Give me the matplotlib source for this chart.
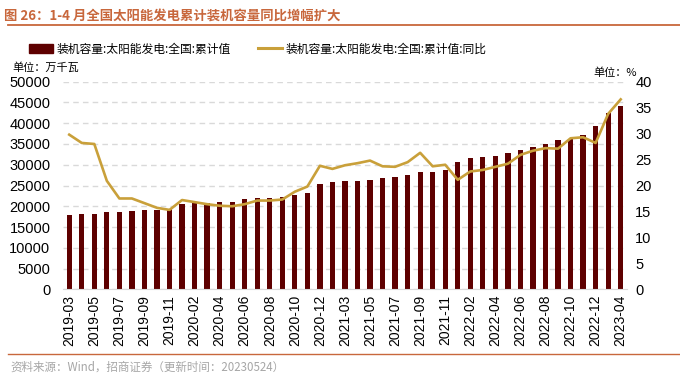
import numpy as np
import matplotlib
matplotlib.use('Agg')
import matplotlib.pyplot as plt
from matplotlib.lines import Line2D
from matplotlib.patches import Patch

plt.rcParams['font.family'] = ['Liberation Sans', 'Noto Sans CJK SC', 'DejaVu Sans']

# monthly cumulative data (no January figures)
months = (['2019-%02d' % m for m in range(3, 13)] +
          ['2020-%02d' % m for m in range(2, 13)] +
          ['2021-%02d' % m for m in range(2, 13)] +
          ['2022-%02d' % m for m in range(2, 13)] +
          ['2023-03', '2023-04'])

capacity = [17900, 18050, 18130, 18600, 18720, 18880, 19050, 19200, 19280, 20430,
            20800, 20860, 21020, 21100, 21670, 21910, 21990, 22230, 22780, 23190, 25360,
            25840, 26000, 26160, 26400, 26720, 27120, 27520, 28250, 28250, 28810, 30650,
            31620, 31800, 32180, 32740, 33620, 34270, 34990, 35870, 36270, 37160, 39250,
            42530, 44060]

yoy = [29.8, 28.2, 28.0, 20.9, 17.5, 17.5, 16.6, 15.7, 15.3, 17.2,
       16.8, 16.4, 16.1, 16.0, 16.4, 17.1, 17.1, 17.3, 18.8, 19.8, 23.8,
       23.2, 23.9, 24.3, 24.8, 23.7, 23.6, 24.5, 26.3, 23.7, 24.0, 21.1,
       22.7, 23.0, 23.6, 24.2, 25.9, 26.7, 27.2, 27.1, 29.1, 29.3, 28.2,
       33.8, 36.6]

left_ticks = list(range(0, 50001, 5000))
right_ticks = list(range(0, 41, 5))

bar_color = '#5E0000'
line_color = '#C9A03A'
accent = '#C8673C'
cjk = ['Noto Sans CJK SC', 'DejaVu Sans']

fig = plt.figure(figsize=(6.8, 3.79), dpi=100)
ax = fig.add_axes([0.0926, 0.2367, 0.8294, 0.5477])
ax2 = ax.twinx()

x = np.arange(len(months))
ax.bar(x, capacity, width=0.42, color=bar_color, zorder=2)
ax2.plot(x, yoy, color=line_color, lw=1.9, zorder=3)

ax.set_xlim(-0.5, len(months) - 0.5)
ax.set_ylim(0, 50000)
ax2.set_ylim(0, 40)
ax.set_yticks(left_ticks)
ax2.set_yticks(right_ticks)
ax.set_xticks(x[::2])
ax.set_xticklabels(months[::2], rotation=90)
ax.tick_params(axis='both', length=0, labelsize=10.5, pad=9)
ax.tick_params(axis='x', labelsize=10, pad=4)
ax2.tick_params(axis='y', length=0, labelsize=10.5, pad=6)

ax.yaxis.grid(True, color='#D9D9D9', ls=(0, (4, 3)), lw=1)
ax.set_axisbelow(True)
for a in (ax, ax2):
    for s in a.spines.values():
        s.set_visible(False)
ax.spines['bottom'].set_visible(True)
ax.spines['bottom'].set_color('#D9D9D9')

# title and decoration
fig.text(0.006, 0.96, '图 26：1-4 月全国太阳能发电累计装机容量同比增幅扩大', family=cjk,
         fontsize=9.6, fontweight='bold', color=accent, va='center')
fig.add_artist(Line2D([0.012, 1.0], [0.934, 0.934], color=accent, lw=1.3))
fig.add_artist(Line2D([0.012, 1.0], [0.066, 0.066], color=accent, lw=1.0))
fig.text(0.015, 0.032, '资料来源：Wind，招商证券（更新时间：20230524）', family=cjk,
         fontsize=8.3, color='#A6A6A6', va='center')

fig.text(0.018, 0.823, '单位：万千瓦', family=cjk, fontsize=8, va='center')
fig.text(0.873, 0.808, '单位：%', family=cjk, fontsize=8, va='center')

handles = [Patch(color=bar_color), Line2D([0], [0], color=line_color, lw=2.2)]
labels = ['装机容量:太阳能发电:全国:累计值', '装机容量:太阳能发电:全国:累计值:同比']
fig.legend(handles, labels, loc='center left', bbox_to_anchor=(0.035, 0.87), ncol=2,
           frameon=False, prop={'family': cjk, 'size': 8.5}, handlelength=2.1,
           handleheight=0.8, columnspacing=2.3, handletextpad=0.25, borderaxespad=0)

fig.savefig('out.png', dpi=100)
